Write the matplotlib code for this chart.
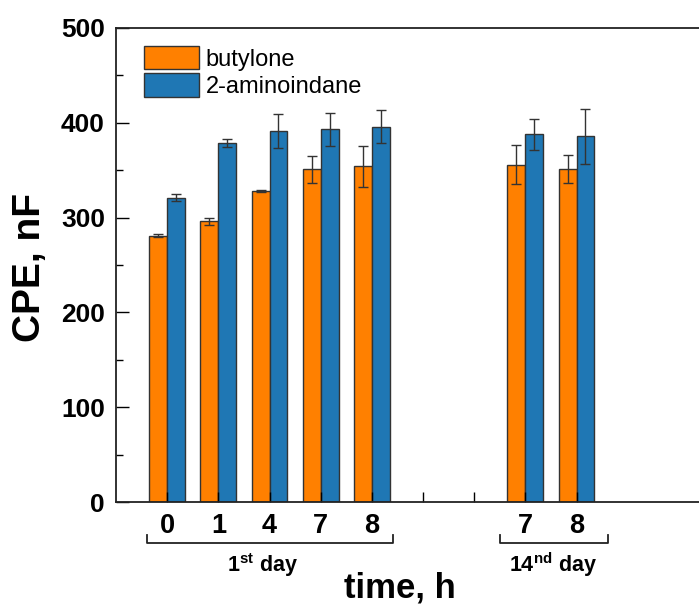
import numpy as np
import matplotlib
matplotlib.use('Agg')
import matplotlib.pyplot as plt
import matplotlib.transforms as mtransforms

plt.rcParams['font.family'] = ['Liberation Sans', 'DejaVu Sans']
plt.rcParams['mathtext.fontset'] = 'custom'
plt.rcParams['mathtext.rm'] = 'Liberation Sans:bold'
plt.rcParams['mathtext.bf'] = 'Liberation Sans:bold'

# data (CPE, nF)
hours_day1 = ['0', '1', '4', '7', '8']
hours_day14 = ['7', '8']

butylone_day1 = [281, 296, 328, 351, 354]
butylone_err_day1 = [1.8, 4, 1.5, 14, 22]
amino_day1 = [321, 379, 391, 393, 396]
amino_err_day1 = [4, 4.4, 18, 17, 17]

butylone_day14 = [356, 351]
butylone_err_day14 = [21, 15]
amino_day14 = [388, 386]
amino_err_day14 = [16.5, 29]

orange = '#FF8000'
blue = '#1F77B4'
edge = '#333333'

# positions: day 1 at 0..4, two empty slots, day 14 at 7..8
pos1 = np.arange(len(hours_day1))
pos14 = np.arange(len(hours_day14)) + len(hours_day1) + 2
pos = np.concatenate([pos1, pos14])
butylone = butylone_day1 + butylone_day14
butylone_err = butylone_err_day1 + butylone_err_day14
amino = amino_day1 + amino_day14
amino_err = amino_err_day1 + amino_err_day14

fig = plt.figure(figsize=(6.99, 6.07), dpi=100)
ax = fig.add_axes([116 / 699, 105 / 607, 614 / 699, 474 / 607])

w = 0.35
err_kw = dict(ecolor='#333333', elinewidth=1, capsize=3.5, capthick=1)
ax.bar(pos - w / 2, butylone, w, yerr=butylone_err, color=orange,
       edgecolor=edge, linewidth=1, label='butylone', error_kw=err_kw)
ax.bar(pos + w / 2, amino, w, yerr=amino_err, color=blue,
       edgecolor=edge, linewidth=1, label='2-aminoindane', error_kw=err_kw)

ax.set_xlim(-1, 11)
ax.set_ylim(0, 500)

all_pos = np.arange(pos14[-1] + 1)
labels = [''] * len(all_pos)
for p, h in zip(pos1, hours_day1):
    labels[p] = h
for p, h in zip(pos14, hours_day14):
    labels[p] = h
ax.set_xticks(all_pos)
ax.set_xticklabels(labels, fontsize=19.5, fontweight='bold')
ax.set_yticks(np.arange(0, 501, 100))
ax.set_yticks(np.arange(50, 500, 100), minor=True)
ax.set_yticklabels([str(v) for v in range(0, 501, 100)], fontsize=19, fontweight='bold')
ax.tick_params(axis='x', direction='in', length=7, width=1, pad=8)
ax.tick_params(axis='y', which='major', direction='in', length=9, width=1, pad=8)
ax.tick_params(axis='y', which='minor', direction='in', length=5, width=1)

for s in ['left', 'bottom', 'top']:
    ax.spines[s].set_linewidth(1.3)
    ax.spines[s].set_color('#222222')
ax.spines['right'].set_visible(False)

fig.text(30 / 699, 1 - 267 / 607, 'CPE, nF', rotation=90, ha='center', va='center',
         fontsize=28, fontweight='bold')

ax.legend(loc='upper left', bbox_to_anchor=(0.046, 0.962), frameon=False,
          fontsize=17, handlelength=2.3, handleheight=1.15,
          labelspacing=0.1, handletextpad=0.3, borderpad=0,
          borderaxespad=0)

# day brackets below tick labels
trans = mtransforms.blended_transform_factory(ax.transData, fig.transFigure)
brackets = [(-0.39, 4.41, r'1$^{\mathbf{st}}$ day', 1.87),
            (6.5, 8.62, r'14$^{\mathbf{nd}}$ day', 7.55)]
for x0, x1, txt, xc in brackets:
    ax.plot([x0, x0, x1, x1], [0.1186, 0.1054, 0.1054, 0.1186], color='#222222',
            lw=1.3, transform=trans, clip_on=False)
    ax.text(xc, 0.069, txt, transform=trans, ha='center', va='center',
            fontsize=15.5, fontweight='bold')

fig.text(400 / 699, 1 - 588 / 607, 'time, h', ha='center', va='center',
         fontsize=25, fontweight='bold')

fig.savefig('out.png', dpi=100)
